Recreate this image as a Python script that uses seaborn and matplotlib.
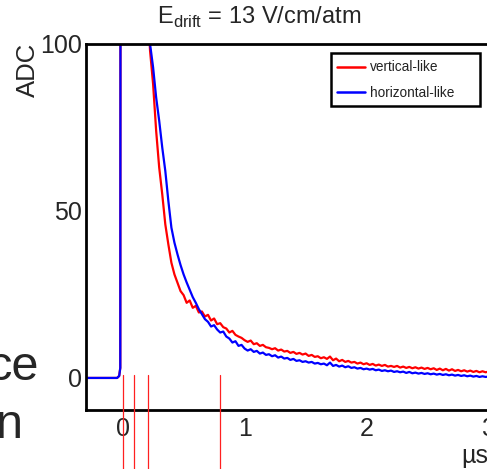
import numpy as np
import pandas as pd
import matplotlib
matplotlib.use("Agg")
import matplotlib.pyplot as plt
from matplotlib.patches import Rectangle
import seaborn as sns

# ---------------- data ----------------
t_rise = [-0.35, -0.045, -0.028, -0.019, -0.016, 0.0, 0.1, 0.175]
rise_vals = [0.0, 0.0, 0.6, 3.0, 200.0, 300.0, 250.0, 160.0]

t_decay = [0.200, 0.225, 0.250, 0.275, 0.300, 0.325, 0.350, 0.375, 0.400, 0.425,
           0.450, 0.475, 0.500, 0.525, 0.550, 0.575, 0.600, 0.625, 0.650, 0.675,
           0.700, 0.725, 0.750, 0.775, 0.800, 0.825, 0.850, 0.875, 0.900, 0.925,
           0.950, 0.975, 1.000, 1.025, 1.050, 1.075, 1.100, 1.125, 1.150, 1.175,
           1.200, 1.225, 1.250, 1.275, 1.300, 1.325, 1.350, 1.375, 1.400, 1.425,
           1.450, 1.475, 1.500, 1.525, 1.550, 1.575, 1.600, 1.625, 1.650, 1.675,
           1.700, 1.725, 1.750, 1.775, 1.800, 1.825, 1.850, 1.875, 1.900, 1.925,
           1.950, 1.975, 2.000, 2.025, 2.050, 2.075, 2.100, 2.125, 2.150, 2.175,
           2.200, 2.225, 2.250, 2.275, 2.300, 2.325, 2.350, 2.375, 2.400, 2.425,
           2.450, 2.475, 2.500, 2.525, 2.550, 2.575, 2.600, 2.625, 2.650, 2.675,
           2.700, 2.725, 2.750, 2.775, 2.800, 2.825, 2.850, 2.875, 2.900, 2.925,
           2.950, 2.975, 3.000, 3.025, 3.050]

vertical_like = [115, 98, 88, 74, 63, 55, 46, 40, 34.5, 31,
                 28.5, 26, 24.8, 22.5, 23.2, 21, 21.6, 19.6, 19.9, 18.4,
                 18.9, 17.2, 17.8, 16.1, 16.4, 15.2, 14.8, 13.6, 14.1, 12.9,
                 12.4, 12.0, 11.3, 10.8, 11.2, 10.1, 10.4, 9.6, 9.9, 9.2,
                 9.0, 8.6, 8.9, 8.2, 8.5, 7.9, 8.1, 7.5, 7.8, 7.2,
                 7.5, 7.0, 7.3, 6.6, 6.9, 6.3, 6.5, 5.9, 6.2, 5.7,
                 6.4, 5.3, 5.8, 5.0, 5.4, 4.8, 5.1, 4.6, 4.8, 4.3,
                 4.6, 4.1, 4.4, 3.9, 4.2, 3.7, 4.0, 3.6, 3.9, 3.4,
                 3.6, 3.3, 3.6, 3.1, 3.4, 3.0, 3.3, 2.9, 3.2, 2.8,
                 3.1, 2.7, 3.0, 2.6, 2.9, 2.4, 2.8, 2.3, 2.7, 2.2,
                 2.6, 2.1, 2.4, 2.0, 2.3, 1.9, 2.2, 1.8, 2.1, 1.7,
                 2.0, 1.7, 1.9, 1.6, 1.8]

horizontal_like = [125, 100, 93, 84, 77, 69, 62, 53, 45, 40.5,
                   37, 33.8, 31, 28.6, 26.4, 24.2, 22.5, 20.6, 19.1, 17.6,
                   16.8, 15.4, 15.8, 14.5, 13.6, 13.9, 12.4, 11.8, 10.6, 11.0,
                   9.6, 9.9, 8.8, 8.2, 8.6, 7.8, 8.1, 7.3, 7.6, 6.9,
                   7.1, 6.5, 6.8, 6.1, 6.4, 5.8, 6.0, 5.4, 5.7, 5.1,
                   5.3, 4.8, 5.0, 4.6, 4.8, 4.3, 4.5, 4.1, 4.3, 3.8,
                   4.6, 3.6, 3.9, 3.4, 3.7, 3.2, 3.5, 3.0, 3.2, 2.8,
                   3.0, 2.6, 2.8, 2.5, 2.7, 2.3, 2.5, 2.1, 2.3, 2.0,
                   2.2, 1.8, 2.0, 1.7, 1.9, 1.5, 1.8, 1.4, 1.6, 1.3,
                   1.5, 1.2, 1.4, 1.1, 1.3, 1.0, 1.2, 0.9, 1.1, 0.8,
                   1.0, 0.7, 0.9, 0.6, 0.8, 0.5, 0.7, 0.4, 0.6, 0.3,
                   0.5, 0.3, 0.4, 0.2, 0.3]

marker_times = [0.003, 0.09, 0.207, 0.80]

series_names = ["vertical-like", "horizontal-like"]
series_colors = ["#ff0000", "#0000ff"]

# ---------------- build table ----------------
rows = []
for name, vals in zip(series_names, [vertical_like, horizontal_like]):
    for t, v in zip(t_rise + t_decay, rise_vals + vals):
        rows.append({"t": t, "adc": v, "series": name})
df = pd.DataFrame(rows)

# ---------------- plot ----------------
sns.set_style("white")
plt.rcParams["font.family"] = ["Liberation Sans", "DejaVu Sans"]

W, H = 487, 469
fig = plt.figure(figsize=(W / 100, H / 100), dpi=100)
x_left, x_right = -0.3, 3.15
px_per_unit = 122.0
ax_w = (x_right - x_left) * px_per_unit / W
ax = fig.add_axes([86 / W, (H - 410) / H, ax_w, (410 - 44) / H])

sns.lineplot(data=df, x="t", y="adc", hue="series", palette=series_colors,
             hue_order=series_names, estimator=None, sort=False,
             linewidth=1.6, ax=ax, legend=True)

ax.set_xlim(x_left, x_right)
ax.set_ylim(-9.6, 100)
ax.set_xticks([0, 1, 2, 3])
ax.set_xticks(np.arange(-0.2, 3.1, 0.2), minor=True)
ax.set_yticks([0, 50, 100])
ax.set_yticks(np.arange(0, 101, 10), minor=True)
ax.tick_params(axis="both", which="major", direction="in", length=9.5, width=1.8,
               labelsize=18, color="black")
ax.tick_params(axis="both", which="minor", direction="in", length=4.5, width=1.6,
               color="black")
ax.tick_params(axis="y", pad=3)
ax.tick_params(axis="x", pad=5)
ax.tick_params(top=False, right=False, which="both")
ax.set_xlabel("")
ax.set_ylabel("")
for sp in ax.spines.values():
    sp.set_linewidth(2.0)
    sp.set_color("black")

# annotation lines below axis
for mt in marker_times:
    ax.plot([mt, mt], [0.8, -30], color="#ff2020", linewidth=0.9,
            clip_on=False, zorder=10)

# legend: frameless legend inside a drawn box
leg = ax.legend(loc="upper left", bbox_to_anchor=(332 / W, (H - 55) / H),
                bbox_transform=fig.transFigure, fontsize=9.8, frameon=False,
                handlelength=2.0, handletextpad=0.4,
                labelspacing=0.85, borderpad=0.4, borderaxespad=0)
for line in leg.get_lines():
    line.set_linewidth(1.8)
for txt in leg.get_texts():
    txt.set_color("#222222")
leg.set_zorder(6)
box = Rectangle((331 / W, (H - 106) / H), (480 - 331) / W, (106 - 53) / H,
                transform=fig.transFigure, facecolor="white", edgecolor="black",
                linewidth=1.8, zorder=5, clip_on=False)
ax.add_patch(box)

fig.text(259 / W, (H - 24) / H, r"E$_{\mathregular{drift}}$ = 13 V/cm/atm",
         ha="center", va="baseline", fontsize=17)
fig.text(28 / W, (H - 43) / H, "ADC", rotation=90, ha="center", va="top",
         fontsize=18.5)
fig.text(461 / W, (H - 463) / H, "µs", ha="left", va="baseline", fontsize=18)

# partial slide text on the left
fig.text(39 / W, (H - 380) / H, "ce", ha="right", va="baseline", fontsize=35)
fig.text(23 / W, (H - 438) / H, "n", ha="right", va="baseline", fontsize=35)

fig.savefig("out.png", dpi=100)
